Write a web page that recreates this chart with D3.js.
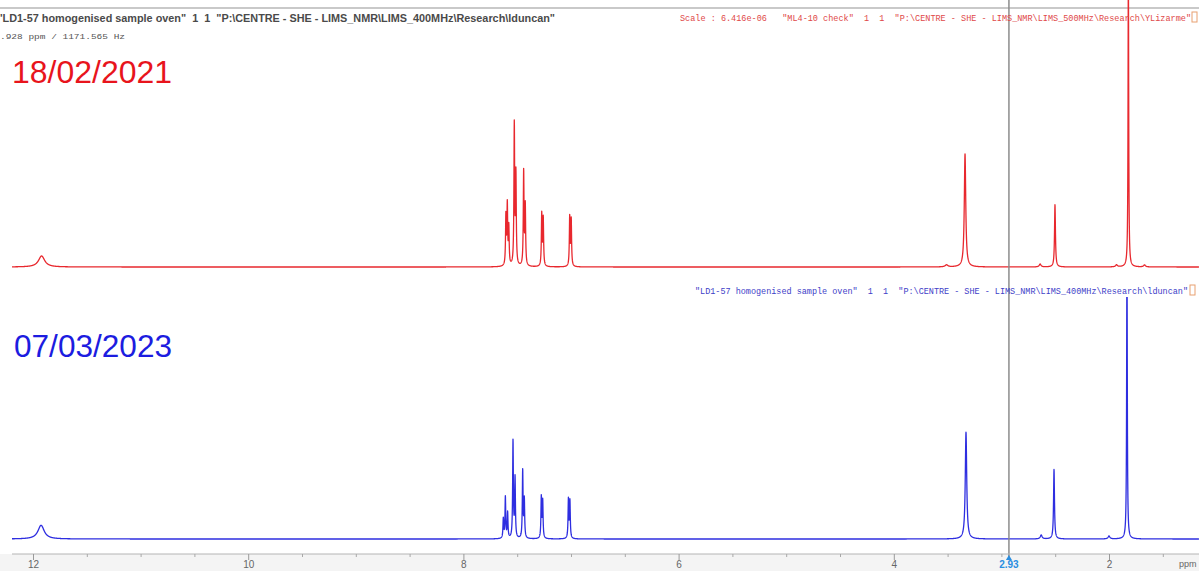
<!DOCTYPE html>
<html>
<head>
<meta charset="utf-8">
<script src="https://cdn.jsdelivr.net/npm/d3@7"></script>
<style>
  html, body { margin: 0; padding: 0; background: #fff; }
  svg { display: block; }
  text { white-space: pre; }
</style>
</head>
<body>
<svg id="chart" width="1199" height="571"></svg>
<script>
// ---- Spectrum peak lists (chemical shift in ppm, relative intensity, line width in ppm) ----
const redPpm    = [11.92, 7.605, 7.592, 7.578, 7.527, 7.512, 7.440, 7.425, 7.272, 7.258, 7.012, 6.998, 3.51, 3.338, 2.64, 2.502, 1.93, 1.820, 1.67];
const redHeight = [7.6,   34,    41,    26,    97,    62,    65,    41,    36,    33,    34,    32,    1.4,  78,    2,    43,    1.4,  210,   1.4];
const redWidth  = [0.07,  0.008, 0.008, 0.008, 0.008, 0.008, 0.008, 0.008, 0.008, 0.008, 0.008, 0.008, 0.03, 0.016, 0.02, 0.010, 0.02, 0.007, 0.02];

const bluePpm    = [11.925, 7.629, 7.610, 7.589, 7.539, 7.520, 7.449, 7.434, 7.276, 7.263, 7.024, 7.010, 3.329, 2.63, 2.511, 2.00, 1.833];
const blueHeight = [14,     20,    42,    26,    99,    61,    69,    39,    42,    38,    40,    38,    109,   4,    71,    3,    306];
const blueWidth  = [0.07,   0.008, 0.008, 0.008, 0.008, 0.008, 0.008, 0.008, 0.008, 0.008, 0.008, 0.008, 0.016, 0.02, 0.010, 0.02, 0.007];

// ---- Axis ticks and labels ----
const majorTicks = [12, 10, 8, 6, 4, 2];
const minorTicks = [11.5, 11, 10.5, 9.5, 9, 8.5, 7.5, 7, 6.5, 5.5, 5, 4.5, 3.5, 3, 2.5, 1.5];
const cursorPpm = 2.93;

// ---- Panel texts ----
const dateRed  = "18/02/2021";
const dateBlue = "07/03/2023";
const titleTopLeft = "'LD1-57 homogenised sample oven\"  1  1  \"P:\\CENTRE - SHE - LIMS_NMR\\LIMS_400MHz\\Research\\lduncan\"";
const cursorReadout = ".928 ppm / 1171.565 Hz";
const headerRed  = "Scale : 6.416e-06   \"ML4-10 check\"  1  1  \"P:\\CENTRE - SHE - LIMS_NMR\\LIMS_500MHz\\Research\\YLizarme\"";
const headerBlue = "\"LD1-57 homogenised sample oven\"  1  1  \"P:\\CENTRE - SHE - LIMS_NMR\\LIMS_400MHz\\Research\\lduncan\"";

const W = 1199, H = 571;
const svg = d3.select("#chart");

const x = d3.scaleLinear().domain([12, 2]).range([33, 1109]);
const yRed  = d3.scaleLinear().domain([0, 100]).range([267, 122]);
const yBlue = d3.scaleLinear().domain([0, 100]).range([539, 441]);

// Sum of Lorentzian lines for a peak list, sampled along the ppm axis
function spectrum(ppms, heights, widths) {
  const start = x.invert(12), end = x.invert(W);
  const pts = [];
  for (let p = start; p >= end; p -= 0.001) {
    let v = 0;
    for (let i = 0; i < ppms.length; i++) {
      const hw = widths[i] / 2;
      const d = (p - ppms[i]) / hw;
      v += heights[i] / (1 + d * d);
    }
    pts.push([p, v]);
  }
  return pts;
}

const defs = svg.append("defs");
defs.append("clipPath").attr("id", "clipRed")
  .append("rect").attr("x", 0).attr("y", 0).attr("width", W).attr("height", 280);
defs.append("clipPath").attr("id", "clipBlue")
  .append("rect").attr("x", 0).attr("y", 297).attr("width", W).attr("height", 250);

// Axis strip background
svg.append("rect").attr("x", 0).attr("y", 554).attr("width", W).attr("height", H - 554).attr("fill", "#f4f4f4");

// Top frame line
svg.append("line").attr("x1", 0).attr("x2", W).attr("y1", 8).attr("y2", 8)
  .attr("stroke", "#c9c9c9").attr("stroke-width", 2);

// Spectra
const line = (ys) => d3.line().x(d => x(d[0])).y(d => ys(d[1]));

svg.append("path")
  .datum(spectrum(redPpm, redHeight, redWidth))
  .attr("clip-path", "url(#clipRed)")
  .attr("fill", "none").attr("stroke", "#e8282e").attr("stroke-width", 1.3)
  .attr("stroke-linejoin", "round")
  .attr("d", line(yRed));

svg.append("path")
  .datum(spectrum(bluePpm, blueHeight, blueWidth))
  .attr("clip-path", "url(#clipBlue)")
  .attr("fill", "none").attr("stroke", "#2e2ee0").attr("stroke-width", 1.3)
  .attr("stroke-linejoin", "round")
  .attr("d", line(yBlue));

// Cursor line
svg.append("line")
  .attr("x1", x(cursorPpm)).attr("x2", x(cursorPpm))
  .attr("y1", 0).attr("y2", 557)
  .attr("stroke", "#8c8c8c").attr("stroke-width", 1.5);

// Headers
svg.append("text").text(titleTopLeft)
  .attr("x", 0).attr("y", 22)
  .attr("font-family", "Liberation Sans, Arial, sans-serif")
  .attr("font-size", 10).attr("font-weight", "bold").attr("fill", "#4a4a4a")
  .attr("textLength", 555).attr("lengthAdjust", "spacingAndGlyphs");

svg.append("text").text(cursorReadout)
  .attr("x", 0).attr("y", 39)
  .attr("font-family", "Liberation Mono, monospace")
  .attr("font-size", 8).attr("fill", "#555")
  .attr("textLength", 125).attr("lengthAdjust", "spacingAndGlyphs");

svg.append("text").text(headerRed)
  .attr("x", 680).attr("y", 21)
  .attr("font-family", "Liberation Mono, monospace")
  .attr("font-size", 8.5).attr("fill", "#e04848")
  .attr("textLength", 511).attr("lengthAdjust", "spacingAndGlyphs");
svg.append("rect").attr("x", 1192).attr("y", 12).attr("width", 5).attr("height", 10)
  .attr("fill", "none").attr("stroke", "#e8a070").attr("stroke-width", 1);

svg.append("text").text(headerBlue)
  .attr("x", 695).attr("y", 294)
  .attr("font-family", "Liberation Mono, monospace")
  .attr("font-size", 8.5).attr("fill", "#4040c8")
  .attr("textLength", 493).attr("lengthAdjust", "spacingAndGlyphs");
svg.append("rect").attr("x", 1190).attr("y", 285).attr("width", 5).attr("height", 10)
  .attr("fill", "none").attr("stroke", "#e8a070").attr("stroke-width", 1);

// Date labels
svg.append("text").text(dateRed)
  .attr("x", 12).attr("y", 83)
  .attr("font-family", "Liberation Sans, Arial, sans-serif")
  .attr("font-size", 32).attr("fill", "#e8141c")
  .attr("textLength", 160).attr("lengthAdjust", "spacingAndGlyphs");

svg.append("text").text(dateBlue)
  .attr("x", 14).attr("y", 357)
  .attr("font-family", "Liberation Sans, Arial, sans-serif")
  .attr("font-size", 32).attr("fill", "#1c1ce0")
  .attr("textLength", 158).attr("lengthAdjust", "spacingAndGlyphs");

// ppm axis
const axisG = svg.append("g").attr("transform", "translate(0,554)");
axisG.append("line").attr("x1", 12).attr("x2", W).attr("y1", 0).attr("y2", 0)
  .attr("stroke", "#b4b4b4").attr("stroke-width", 1);

const axis = d3.axisBottom(x).tickValues(majorTicks).tickSize(6).tickSizeOuter(0).tickFormat(d3.format("d"));
const ag = axisG.append("g").call(axis);
ag.select(".domain").remove();
ag.selectAll(".tick line").attr("stroke", "#9a9a9a");
ag.selectAll(".tick text")
  .attr("fill", "#666").attr("font-size", 10)
  .attr("font-family", "Liberation Sans, Arial, sans-serif")
  .attr("y", 14).attr("dy", 0);

const minorAxis = d3.axisBottom(x).tickValues(minorTicks).tickSize(3).tickSizeOuter(0).tickFormat("");
const mg = axisG.append("g").call(minorAxis);
mg.select(".domain").remove();
mg.selectAll(".tick line").attr("stroke", "#a8a8a8");

axisG.append("text").text("ppm")
  .attr("x", 1179).attr("y", 13)
  .attr("font-family", "Liberation Sans, Arial, sans-serif")
  .attr("font-size", 9).attr("fill", "#666");

// Cursor marker on the axis
const cx = x(cursorPpm);
axisG.append("path")
  .attr("d", `M${cx - 3},6 L${cx + 3},6 L${cx},1 Z`)
  .attr("fill", "#2a8ee0");
axisG.append("text").text(d3.format(".2f")(cursorPpm))
  .attr("x", cx).attr("y", 14).attr("text-anchor", "middle")
  .attr("font-family", "Liberation Sans, Arial, sans-serif")
  .attr("font-size", 10).attr("font-weight", "bold").attr("fill", "#2a8ee0");
</script>
</body>
</html>
